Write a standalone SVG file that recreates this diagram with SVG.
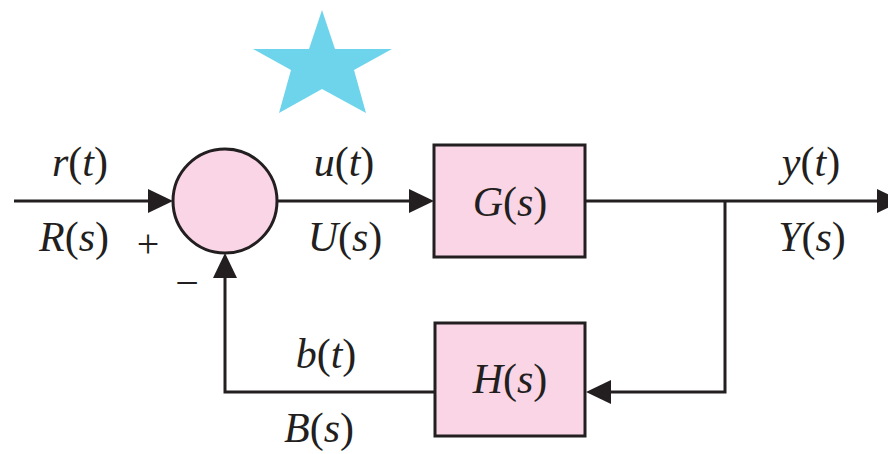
<svg xmlns="http://www.w3.org/2000/svg" width="888" height="454" viewBox="0 0 888 454">
<defs>
<polygon id="ahR" points="-25,-12 0,0 -25,12" fill="#231f20"/>
</defs>
<rect width="888" height="454" fill="#fff"/>
<polygon points="322,10 335,49 392,49 354,70 366,113 322,89 279,113 291,70 253,49 309,49" fill="#6dd4ec"/>
<g id="connectors" fill="none" stroke="#231f20" stroke-width="3">
<line x1="14" y1="201" x2="150" y2="201"/>
<line x1="277" y1="201" x2="412" y2="201"/>
<line x1="585" y1="201" x2="880" y2="201"/>
<polyline points="725,201 725,392 608,392"/>
<polyline points="436,392 225,392 225,276"/>
<g stroke="none">
<use href="#ahR" transform="translate(173,201)"/>
<use href="#ahR" transform="translate(434,201)"/>
<use href="#ahR" transform="translate(902,201)"/>
<use href="#ahR" transform="translate(586,392) rotate(180)"/>
<use href="#ahR" transform="translate(225,253) rotate(-90)"/>
</g>
</g>
<g id="sum">
<circle cx="225" cy="201" r="52" fill="#f9d5e6" stroke="#231f20" stroke-width="3"/>
<text x="148" y="257" font-family="Times New Roman, Liberation Serif, serif" font-size="40" text-anchor="middle" fill="#231f20">+</text>
<text x="187" y="297" font-family="Times New Roman, Liberation Serif, serif" font-size="42" text-anchor="middle" fill="#231f20">−</text>
</g>
<g id="G">
<rect x="434" y="145" width="151" height="112" fill="#f9d5e6" stroke="#231f20" stroke-width="3"/>
<text x="510" y="216" font-family="Times New Roman, Liberation Serif, serif" font-size="42" text-anchor="middle" fill="#231f20"><tspan font-style="italic">G</tspan>(<tspan font-style="italic">s</tspan>)</text>
</g>
<g id="H">
<rect x="435" y="323" width="150" height="113" fill="#f9d5e6" stroke="#231f20" stroke-width="3"/>
<text x="510" y="393" font-family="Times New Roman, Liberation Serif, serif" font-size="42" text-anchor="middle" fill="#231f20"><tspan font-style="italic">H</tspan>(<tspan font-style="italic">s</tspan>)</text>
</g>
<g id="labels" font-family="Times New Roman, Liberation Serif, serif" font-size="42" fill="#231f20" text-anchor="middle">
<text x="80" y="176"><tspan font-style="italic">r</tspan>(<tspan font-style="italic">t</tspan>)</text>
<text x="74" y="251"><tspan font-style="italic">R</tspan>(<tspan font-style="italic">s</tspan>)</text>
<text x="344" y="176"><tspan font-style="italic">u</tspan>(<tspan font-style="italic">t</tspan>)</text>
<text x="345" y="251"><tspan font-style="italic">U</tspan>(<tspan font-style="italic">s</tspan>)</text>
<text x="811" y="176"><tspan font-style="italic">y</tspan>(<tspan font-style="italic">t</tspan>)</text>
<text x="812" y="251"><tspan font-style="italic">Y</tspan>(<tspan font-style="italic">s</tspan>)</text>
<text x="326" y="368"><tspan font-style="italic">b</tspan>(<tspan font-style="italic">t</tspan>)</text>
<text x="319" y="442"><tspan font-style="italic">B</tspan>(<tspan font-style="italic">s</tspan>)</text>
</g>
</svg>
